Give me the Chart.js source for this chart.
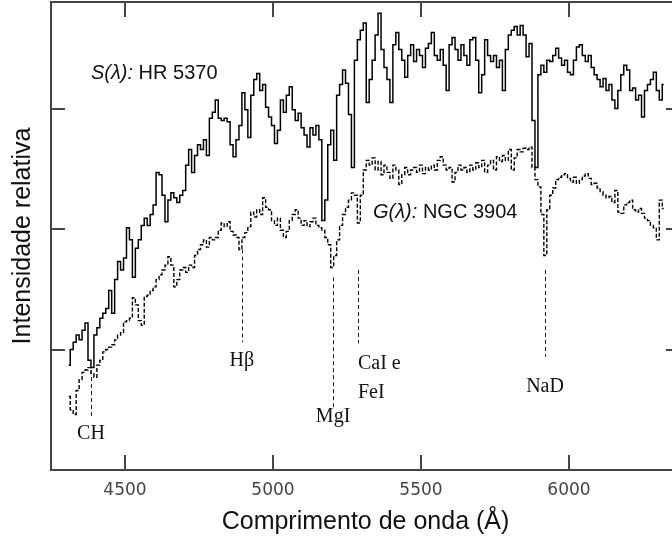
<!DOCTYPE html>
<html><head><meta charset="utf-8">
<script src="https://cdn.jsdelivr.net/npm/chart.js@4.4.1/dist/chart.umd.min.js"></script>
<style>html,body{margin:0;padding:0;background:#fff;overflow:hidden;width:672px;height:543px}canvas{display:block}</style>
</head><body><canvas id="c" width="690" height="543"></canvas>
<script>
// Wavelength grid (Å)
const wavelengths = [
4310,4320,4330,4340,4350,4360,4370,4380,4390,4400,
4410,4420,4430,4440,4450,4460,4470,4480,4490,4500,
4510,4520,4530,4540,4550,4560,4570,4580,4590,4600,
4610,4620,4630,4640,4650,4660,4670,4680,4690,4700,
4710,4720,4730,4740,4750,4760,4770,4780,4790,4800,
4810,4820,4830,4840,4850,4860,4870,4880,4890,4900,
4910,4920,4930,4940,4950,4960,4970,4980,4990,5000,
5010,5020,5030,5040,5050,5060,5070,5080,5090,5100,
5110,5120,5130,5140,5150,5160,5170,5180,5190,5200,
5210,5220,5230,5240,5250,5260,5270,5280,5290,5300,
5310,5320,5330,5340,5350,5360,5370,5380,5390,5400,
5410,5420,5430,5440,5450,5460,5470,5480,5490,5500,
5510,5520,5530,5540,5550,5560,5570,5580,5590,5600,
5610,5620,5630,5640,5650,5660,5670,5680,5690,5700,
5710,5720,5730,5740,5750,5760,5770,5780,5790,5800,
5810,5820,5830,5840,5850,5860,5870,5880,5890,5900,
5910,5920,5930,5940,5950,5960,5970,5980,5990,6000,
6010,6020,6030,6040,6050,6060,6070,6080,6090,6100,
6110,6120,6130,6140,6150,6160,6170,6180,6190,6200,
6210,6220,6230,6240,6250,6260,6270,6280,6290,6300,
6310,6320];

// S(λ): HR 5370 (relative intensity)
const hr5370 = [
0.87,1.00,1.06,1.12,1.08,1.16,1.22,0.91,0.85,1.12,
1.18,1.26,1.30,1.34,1.49,1.30,1.58,1.73,1.66,1.76,
2.01,1.91,1.60,1.84,1.91,2.03,2.09,2.03,2.12,2.20,
2.47,2.45,2.28,2.06,2.24,2.30,2.26,2.22,2.28,2.32,
2.53,2.66,2.47,2.61,2.70,2.66,2.74,2.61,2.92,2.97,
3.07,2.92,2.90,2.92,2.89,2.70,2.60,2.74,2.86,3.13,
2.99,2.76,3.11,3.24,3.29,3.15,3.20,3.01,2.93,2.86,
2.71,2.82,3.07,2.97,3.11,3.18,2.99,2.90,2.96,2.84,
2.78,2.68,2.84,2.78,2.86,2.74,2.07,2.24,2.70,2.82,
2.57,3.11,3.20,3.32,3.21,2.95,2.51,3.40,3.57,3.65,
3.71,3.05,3.24,3.40,3.61,3.79,3.49,3.34,3.24,3.05,
3.53,3.63,3.49,3.40,3.26,3.44,3.53,3.39,3.49,3.44,
3.34,3.50,3.54,3.63,3.44,3.40,3.49,3.36,3.15,3.53,
3.59,3.49,3.40,3.53,3.44,3.36,3.57,3.59,3.40,3.13,
3.28,3.57,3.44,3.39,3.44,3.34,3.40,3.15,3.49,3.61,
3.65,3.68,3.61,3.69,3.61,3.43,3.54,2.90,2.51,3.28,
3.36,3.30,3.40,3.39,3.44,3.50,3.42,3.36,3.40,3.30,
3.28,3.40,3.51,3.53,3.44,3.39,3.44,3.34,3.28,3.24,
3.18,3.25,3.15,3.20,3.07,3.00,3.15,3.28,3.36,3.32,
3.15,3.17,3.07,3.11,2.93,3.15,3.20,3.24,3.30,3.15,
3.07,3.20];

// G(λ): NGC 3904 (relative intensity)
const ngc3904 = [
0.61,0.50,0.46,0.66,0.75,0.81,0.83,0.85,0.80,0.77,
0.87,0.91,0.98,1.00,1.02,1.04,1.08,1.12,1.14,1.23,
1.24,1.26,1.43,1.37,1.24,1.20,1.44,1.45,1.49,1.52,
1.58,1.62,1.66,1.70,1.77,1.70,1.52,1.58,1.66,1.68,
1.64,1.70,1.68,1.78,1.83,1.87,1.91,1.85,1.93,1.91,
1.93,1.99,2.05,2.02,2.06,1.98,1.95,1.93,1.83,1.93,
1.97,2.02,2.14,2.10,2.16,2.12,2.26,2.18,2.16,2.07,
2.03,2.09,1.99,1.93,1.98,2.07,2.12,2.16,2.09,2.03,
2.07,2.02,2.06,2.09,2.03,2.01,1.99,1.93,1.87,1.68,
1.78,1.91,2.03,2.12,2.18,2.24,2.30,2.28,2.05,2.28,
2.49,2.57,2.53,2.59,2.49,2.56,2.45,2.53,2.47,2.42,
2.53,2.49,2.37,2.45,2.51,2.45,2.49,2.51,2.47,2.53,
2.46,2.51,2.49,2.53,2.49,2.57,2.60,2.53,2.49,2.51,
2.39,2.47,2.53,2.49,2.51,2.47,2.53,2.49,2.55,2.51,
2.57,2.47,2.53,2.57,2.49,2.60,2.56,2.61,2.57,2.66,
2.49,2.59,2.66,2.64,2.67,2.66,2.68,2.51,2.41,2.35,
2.12,1.78,2.16,2.28,2.34,2.41,2.43,2.45,2.46,2.42,
2.39,2.43,2.38,2.41,2.44,2.46,2.42,2.37,2.38,2.34,
2.31,2.28,2.26,2.27,2.22,2.32,2.14,2.13,2.20,2.22,
2.24,2.16,2.14,2.17,2.13,2.09,2.07,2.03,2.01,1.91,
2.24,2.17];

// Axis ticks
const xTicks = [4500, 5000, 5500, 6000];
const yTicks = [1, 2, 3];

// Absorption features
const markerNames = ['CH', 'Hβ', 'MgI', 'CaI e\nFeI', 'NaD'];
const markerLambda = [4385, 4895, 5203, 5287, 5919];
const markerTop = [0.83, 1.83, 1.60, 1.66, 1.66];
const markerBottom = [0.44, 1.06, 0.52, 1.05, 0.94];
const markerLabelLevel = [0.30, 0.91, 0.44, 0.88, 0.69];

// Spectrum labels
const seriesItalic = ['S(λ):', 'G(λ):'];
const seriesRest = [' HR 5370', ' NGC 3904'];
const seriesLabelLambda = [4385, 5338];
const seriesLabelLevel = [3.29, 2.14];

const framePlugin = {
  id: 'frame',
  afterDatasetsDraw(chart) {
    const {ctx, chartArea: a, scales: {x, y}} = chart;
    ctx.save();
    ctx.strokeStyle = '#222'; ctx.lineWidth = 1; ctx.setLineDash([4, 3]);
    markerLambda.forEach((l, i) => {
      const px = Math.round(x.getPixelForValue(l)) + 0.5;
      ctx.beginPath();
      ctx.moveTo(px, y.getPixelForValue(markerTop[i]));
      ctx.lineTo(px, y.getPixelForValue(markerBottom[i]));
      ctx.stroke();
    });
    ctx.setLineDash([]);
    ctx.font = '20px "Liberation Serif", "Times New Roman", serif';
    ctx.fillStyle = '#111'; ctx.textBaseline = 'middle';
    markerNames.forEach((n, i) => {
      const lines = n.split('\n');
      const px = x.getPixelForValue(markerLambda[i]);
      ctx.textAlign = lines.length > 1 ? 'left' : 'center';
      lines.forEach((t, j) => ctx.fillText(t, px, y.getPixelForValue(markerLabelLevel[i]) + j * 29));
    });
    ctx.textAlign = 'left';
    seriesItalic.forEach((t, i) => {
      let px = x.getPixelForValue(seriesLabelLambda[i]);
      const py = y.getPixelForValue(seriesLabelLevel[i]);
      ctx.font = 'italic 20px "Liberation Sans", Arial, sans-serif';
      ctx.fillText(t, px, py);
      px += ctx.measureText(t).width;
      ctx.font = '20px "Liberation Sans", Arial, sans-serif';
      ctx.fillText(seriesRest[i], px, py);
    });
    ctx.strokeStyle = '#444'; ctx.lineWidth = 2;
    ctx.strokeRect(a.left, a.top, a.right - a.left, a.bottom - a.top);
    const seg = (x1, y1, x2, y2) => { ctx.beginPath(); ctx.moveTo(x1, y1); ctx.lineTo(x2, y2); ctx.stroke(); };
    xTicks.forEach(v => {
      const px = Math.round(x.getPixelForValue(v));
      seg(px, a.bottom, px, a.bottom - 15);
      seg(px, a.top, px, a.top + 15);
    });
    yTicks.forEach(v => {
      const py = Math.round(y.getPixelForValue(v));
      seg(a.left, py, a.left + 14, py);
      seg(a.right, py, a.right - 14, py);
    });
    ctx.restore();
  }
};

new Chart(document.getElementById('c'), {
  type: 'line',
  data: {
    datasets: [
      { label: 'S(λ): HR 5370', data: wavelengths.map((l, i) => ({x: l, y: hr5370[i]})),
        borderColor: '#000', borderWidth: 1.5, pointRadius: 0, stepped: 'middle', fill: false },
      { label: 'G(λ): NGC 3904', data: wavelengths.map((l, i) => ({x: l, y: ngc3904[i]})),
        borderColor: '#000', borderWidth: 1.4, borderDash: [4, 2], pointRadius: 0, stepped: 'middle', fill: false }
    ]
  },
  options: {
    responsive: false, animation: false, devicePixelRatio: 1,
    layout: {padding: {top: 2, right: 10, left: 0, bottom: 0}},
    plugins: {legend: {display: false}, tooltip: {enabled: false}},
    scales: {
      x: {
        type: 'linear', min: 4250, max: 6375,
        afterBuildTicks: s => { s.ticks = xTicks.map(v => ({value: v})); },
        afterFit: s => { s.height = 73; },
        grid: {display: false, drawTicks: false}, border: {display: false},
        ticks: {padding: 10, color: '#444', maxRotation: 0, font: {family: '"DejaVu Sans"', size: 17}, callback: v => String(v)},
        title: {display: true, text: 'Comprimento de onda (Å)', color: '#111',
                font: {family: '"Liberation Sans", Arial, sans-serif', size: 25}, padding: {top: 0, bottom: 6}}
      },
      y: {
        min: 0, max: 3.884,
        afterBuildTicks: s => { s.ticks = yTicks.map(v => ({value: v})); },
        afterFit: s => { s.width = 51; },
        grid: {display: false, drawTicks: false}, border: {display: false},
        ticks: {display: false},
        title: {display: true, text: 'Intensidade relativa', color: '#111',
                font: {family: '"Liberation Sans", Arial, sans-serif', size: 25}, padding: {top: 8, bottom: 0}}
      }
    }
  },
  plugins: [framePlugin]
});
</script>
</body></html>
